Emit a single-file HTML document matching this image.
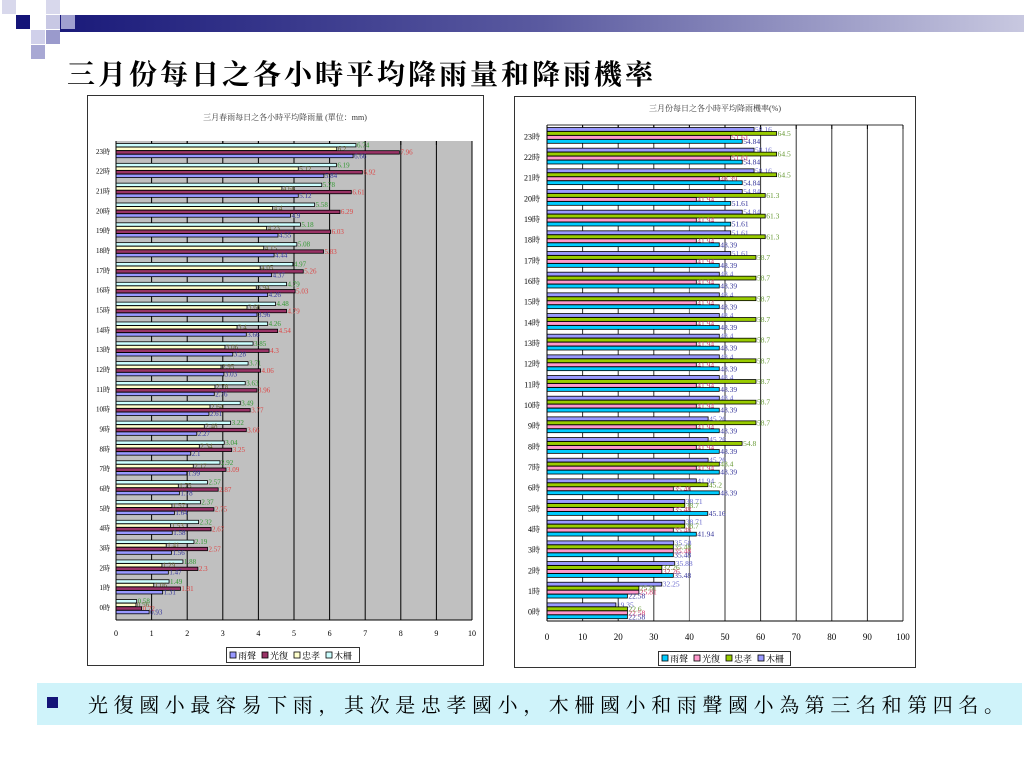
<!DOCTYPE html>
<html><head><meta charset="utf-8">
<style>
body{margin:0;width:1024px;height:768px;background:#fff;position:relative;overflow:hidden;font-family:"Liberation Serif","Noto Serif CJK SC",serif;}
.sq{position:absolute;width:14px;height:14px;}
#tt span{display:inline-block;width:31px;text-align:left;}
</style></head><body>
<div style="position:absolute;left:60px;top:15px;width:964px;height:17px;background:linear-gradient(90deg,#1a1a7a 0%,#5a5aa0 50%,#c8c8e0 100%);"></div>
<div class="sq" style="left:2px;top:0;background:#d8d8ec"></div>
<div class="sq" style="left:46px;top:0;background:#d8d8ec"></div>
<div class="sq" style="left:16px;top:15px;background:#141478"></div>
<div class="sq" style="left:46px;top:15px;background:#c8c8e4"></div>
<div class="sq" style="left:61px;top:15px;background:#a0a0d0"></div>
<div class="sq" style="left:31px;top:30px;background:#d0d0ea"></div>
<div class="sq" style="left:46px;top:30px;background:#9a9acc"></div>
<div class="sq" style="left:31px;top:45px;background:#a8a8d4"></div>
<div id="tt" style="position:absolute;left:67px;top:59px;font-size:28px;font-weight:bold;white-space:nowrap;color:#000;line-height:34px;"><span>三</span><span>月</span><span>份</span><span>每</span><span>日</span><span>之</span><span>各</span><span>小</span><span>時</span><span>平</span><span>均</span><span>降</span><span>雨</span><span>量</span><span>和</span><span>降</span><span>雨</span><span>機</span><span>率</span></div>
<svg id="s" width="1024" height="768" style="position:absolute;left:0;top:0"></svg>
<div style="position:absolute;left:37px;top:683px;width:985px;height:42px;background:#cff3fa;"></div>
<div style="position:absolute;left:47px;top:697px;width:11px;height:11px;background:#141478;"></div>
<div style="position:absolute;left:88px;top:689px;font-size:20px;letter-spacing:5.6px;white-space:nowrap;color:#000;">光復國小最容易下雨，其次是忠孝國小，木柵國小和雨聲國小為第三名和第四名。</div>
<script>
var s='';
function R(x,y,w,h,f,st){s+='<rect x="'+x+'" y="'+y+'" width="'+w+'" height="'+h+'" fill="'+f+'"'+(st?' stroke="'+st+'" stroke-width="0.8"':'')+'/>';}
function L(x1,y1,x2,y2,c,w){s+='<line x1="'+x1+'" y1="'+y1+'" x2="'+x2+'" y2="'+y2+'" stroke="'+c+'" stroke-width="'+(w||1)+'"/>';}
function T(x,y,t,sz,c,a){s+='<text x="'+x+'" y="'+y+'" font-size="'+sz+'" fill="'+c+'"'+(a?' text-anchor="'+a+'"':'')+' font-family="Liberation Serif,Noto Serif CJK SC,serif">'+t+'</text>';}
var LD=[[0.58,0.56,0.72,0.93],[1.49,1.06,1.81,1.31],[1.88,1.29,2.3,1.47],[2.19,1.41,2.57,1.56],[2.32,1.53,2.67,1.58],[2.37,1.57,2.75,1.64],[2.57,1.75,2.87,1.78],[2.92,2.17,3.09,1.99],[3.04,2.34,3.25,2.1],[3.22,2.48,3.66,2.27],[3.49,2.64,3.77,2.61],[3.63,2.78,3.96,2.76],[3.71,2.95,4.06,3.03],[3.85,3.06,4.3,3.28],[4.26,3.4,4.54,3.66],[4.48,3.68,4.79,3.96],[4.79,3.94,5.03,4.26],[4.97,4.05,5.26,4.37],[5.08,4.15,5.83,4.44],[5.18,4.23,6.03,4.55],[5.58,4.4,6.29,4.9],[5.78,4.66,6.61,5.12],[6.19,5.12,6.92,5.84],[6.74,6.2,7.96,6.66]];
R(87.5,95.5,396,570,'#fff','#000');
T(285,120,'三月春雨每日之各小時平均降雨量 (單位：mm)',8,'#333','middle');
var x0=116,px=35.6,tp=141,gh=19.83;
R(x0,tp,356,479,'#c0c0c0');
for(var i=1;i<=10;i++)L(x0+i*px,tp,x0+i*px,620,'#000',1);
for(var i=0;i<=10;i++){L(x0+i*px,tp,x0+i*px,tp+4,'#000',1);T(x0+i*px,636,i,8,'#000','middle');}
var lc=['#ccffff','#ffffcc','#993366','#9999ff'],lt=['#339933','#666633','#dd4444','#333399'];
for(var g=0;g<24;g++){var gy=tp+(23-g)*gh;for(var b=0;b<4;b++){var v=LD[g][b],y=gy+2.5+b*3.6;R(x0,y,v*px,3.4,lc[b],'#000');T(x0+v*px+1,y+4,v,7,lt[b]);}
T(110,gy+gh/2+3,g+'時',7,'#000','end');}
L(x0,tp,x0,620,'#000');L(x0,620,472,620,'#000');
R(226.5,647.5,133,15,'#fff','#000');
var ln=['雨聲','光復','忠孝','木柵'],lf=['#9999ff','#993366','#ffffcc','#ccffff'];
for(var i=0;i<4;i++){R(230+i*32,652,6,6,lf[i],'#000');T(238+i*32,659,ln[i],9,'#000');}
var RD=[[19.35,22.6,22.58,22.58],[32.25,25.81,25.81,22.58],[35.88,32.26,32.26,35.48],[35.58,35.48,35.48,35.48],[38.71,38.7,35.48,41.94],[38.71,38.7,35.48,45.16],[41.94,45.2,35.48,48.39],[45.26,48.4,41.94,48.39],[45.26,54.8,41.94,48.39],[45.26,58.7,41.94,48.39]];
for(var i=10;i<17;i++)RD.push([48.4,58.7,41.94,48.39]);
RD.push([51.61,58.7,41.94,48.39],[51.61,61.3,41.94,48.39],[54.84,61.3,41.94,51.61],[54.84,61.3,41.94,51.61],[58.16,64.5,48.39,54.84],[58.16,64.5,51.61,54.84],[58.16,64.5,51.61,54.84]);
R(514.5,96.5,401,571,'#fff','#000');
T(715,111,'三月份每日之各小時平均降雨機率(%)',8,'#333','middle');
var X0=547,P=3.56,TP=125,GH=20.67,BT=621;
for(var i=1;i<=10;i++)L(X0+i*10*P,TP,X0+i*10*P,BT,i==4?'#777':'#333',1);
L(X0,TP,903,TP,'#333');
for(var i=0;i<=10;i++){L(X0+i*10*P,TP,X0+i*10*P,TP+4,'#000');T(X0+i*10*P,640,i*10,9,'#000','middle');}
var rc=['#9999ff','#99cc00','#ff99cc','#00ccff'],rt=['#6666cc','#669933','#cc3366','#333399'];
for(var g=0;g<24;g++){var gy=TP+(23-g)*GH;for(var b=0;b<4;b++){var v=RD[g][b],y=gy+2.5+b*4;R(X0,y,v*P,3.8,rc[b],'#000');T(X0+v*P+1,y+4.5,v,7.5,rt[b]);}
T(540,gy+GH/2+4,g+'時',8,'#000','end');}
L(X0,TP,X0,BT,'#000');L(X0,BT,903,BT,'#000');
R(658.5,651.5,132,14,'#fff','#000');
var rf=['#00ccff','#ff99cc','#99cc00','#9999ff'];
for(var i=0;i<4;i++){R(662+i*32,655,6,6,rf[i],'#000');T(670+i*32,662,ln[i],9,'#000');}
document.getElementById('s').innerHTML=s;
</script>
</body></html>
